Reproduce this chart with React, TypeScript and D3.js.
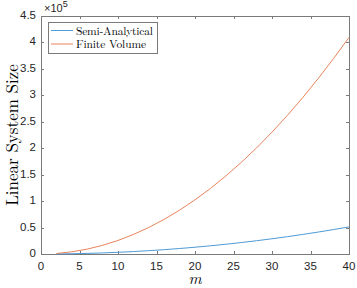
import React, { useEffect, useRef } from 'react';
import * as d3 from 'd3';

// m values and system sizes
const mValues = [2, 4, 6, 8, 10, 12, 14, 16, 18, 20, 22, 24, 26, 28, 30, 32, 34, 36, 38, 40];
const semiAnalytical = [130, 510, 1150, 2050, 3200, 4610, 6270, 8190, 10370, 12800, 15490, 18430, 21630, 25090, 28800, 32770, 36990, 41470, 46210, 51200];
const finiteVolume = [1000, 4100, 9200, 16400, 25600, 36900, 50200, 65500, 82900, 102400, 123900, 147500, 173100, 200700, 230400, 262100, 295900, 331800, 369700, 409600];

const xTicks = [0, 5, 10, 15, 20, 25, 30, 35, 40];
const yTicks = [0, 0.5, 1, 1.5, 2, 2.5, 3, 3.5, 4, 4.5];
const seriesNames = ['Semi-Analytical', 'Finite Volume'];
const seriesColors = ['#4f9bd6', '#e8845c'];

const App: React.FC = () => {
  const svgRef = useRef<SVGSVGElement>(null);

  useEffect(() => {
    if (!svgRef.current) return;
    document.body.style.margin = '0';

    const svg = d3.select(svgRef.current);
    svg.selectAll('*').remove();

    const width = 357;
    const height = 288;
    const margin = { top: 16, right: 8, bottom: 34, left: 41 };
    const innerWidth = width - margin.left - margin.right;
    const innerHeight = height - margin.top - margin.bottom;

    const g = svg.append('g')
      .attr('transform', `translate(${margin.left},${margin.top})`);

    const xScale = d3.scaleLinear().domain([0, 40]).range([0, innerWidth]);
    const yScale = d3.scaleLinear().domain([0, 4.5]).range([innerHeight, 0]);

    const axisColor = '#7a7a7a';
    const tickFont = '"Liberation Sans", Arial, sans-serif';

    // 刻度线 (inside, all four sides)
    xTicks.forEach(t => {
      const x = Math.round(xScale(t)) + 0.5;
      g.append('line').attr('x1', x).attr('x2', x).attr('y1', innerHeight).attr('y2', innerHeight - 3)
        .attr('stroke', axisColor);
      g.append('line').attr('x1', x).attr('x2', x).attr('y1', 0).attr('y2', 3)
        .attr('stroke', axisColor);
      g.append('text')
        .attr('x', xScale(t))
        .attr('y', innerHeight + 16)
        .attr('text-anchor', 'middle')
        .style('font-family', tickFont)
        .style('font-size', '11.5px')
        .style('fill', '#262626')
        .text(String(t));
    });

    yTicks.forEach(t => {
      const y = Math.round(yScale(t)) + 0.5;
      g.append('line').attr('x1', 0).attr('x2', 3).attr('y1', y).attr('y2', y)
        .attr('stroke', axisColor);
      g.append('line').attr('x1', innerWidth).attr('x2', innerWidth - 3).attr('y1', y).attr('y2', y)
        .attr('stroke', axisColor);
      g.append('text')
        .attr('x', -5)
        .attr('y', yScale(t))
        .attr('text-anchor', 'end')
        .attr('dominant-baseline', 'middle')
        .style('font-family', tickFont)
        .style('font-size', '11.5px')
        .style('fill', '#262626')
        .text(String(t));
    });

    // 边框
    g.append('rect')
      .attr('x', 0.5)
      .attr('y', 0.5)
      .attr('width', innerWidth)
      .attr('height', innerHeight)
      .attr('fill', 'none')
      .attr('stroke', axisColor);

    // 指数标签
    const expo = g.append('text')
      .attr('x', 3)
      .attr('y', -4)
      .style('font-family', tickFont)
      .style('font-size', '11px')
      .style('fill', '#262626');
    expo.append('tspan').text('×10');
    expo.append('tspan').attr('dy', -5).style('font-size', '9px').text('5');

    // 曲线
    const line = d3.line<number>()
      .x((_, i) => xScale(mValues[i]))
      .y(d => yScale(d / 1e5));

    [semiAnalytical, finiteVolume].forEach((series, i) => {
      g.append('path')
        .datum(series)
        .attr('d', line)
        .attr('fill', 'none')
        .attr('stroke', seriesColors[i])
        .attr('stroke-width', 1);
    });

    // 图例
    const serif = '"Latin Modern Roman", "Liberation Serif", "Times New Roman", serif';
    const legend = g.append('g').attr('transform', 'translate(7,6)');
    legend.append('rect')
      .attr('x', 0.5)
      .attr('y', 0.5)
      .attr('width', 109)
      .attr('height', 31)
      .attr('fill', '#fff')
      .attr('stroke', axisColor);
    seriesNames.forEach((name, i) => {
      const y = 8.5 + i * 13.5;
      legend.append('line')
        .attr('x1', 3).attr('x2', 25)
        .attr('y1', y).attr('y2', y)
        .attr('stroke', seriesColors[i]);
      legend.append('text')
        .attr('x', 28)
        .attr('y', y + 4)
        .attr('textLength', i === 0 ? 77 : 70)
        .style('font-family', serif)
        .style('font-size', '11.5px')
        .style('fill', '#000')
        .text(name);
    });

    // 轴标签
    svg.append('text')
      .attr('transform', `translate(18,${margin.top + innerHeight / 2}) rotate(-90)`)
      .attr('text-anchor', 'middle')
      .style('font-family', serif)
      .style('font-size', '17px')
      .style('fill', '#000')
      .text('Linear System Size');

    svg.append('text')
      .attr('x', margin.left + innerWidth / 2)
      .attr('y', 284)
      .attr('text-anchor', 'middle')
      .style('font-family', serif)
      .style('font-style', 'italic')
      .style('font-size', '16px')
      .style('fill', '#000')
      .text('m');
  }, []);

  return (
    <div style={{ width: 357, height: 288 }}>
      <svg ref={svgRef} width={357} height={288} style={{ display: 'block', background: '#fff' }} />
    </div>
  );
};

export default App;
